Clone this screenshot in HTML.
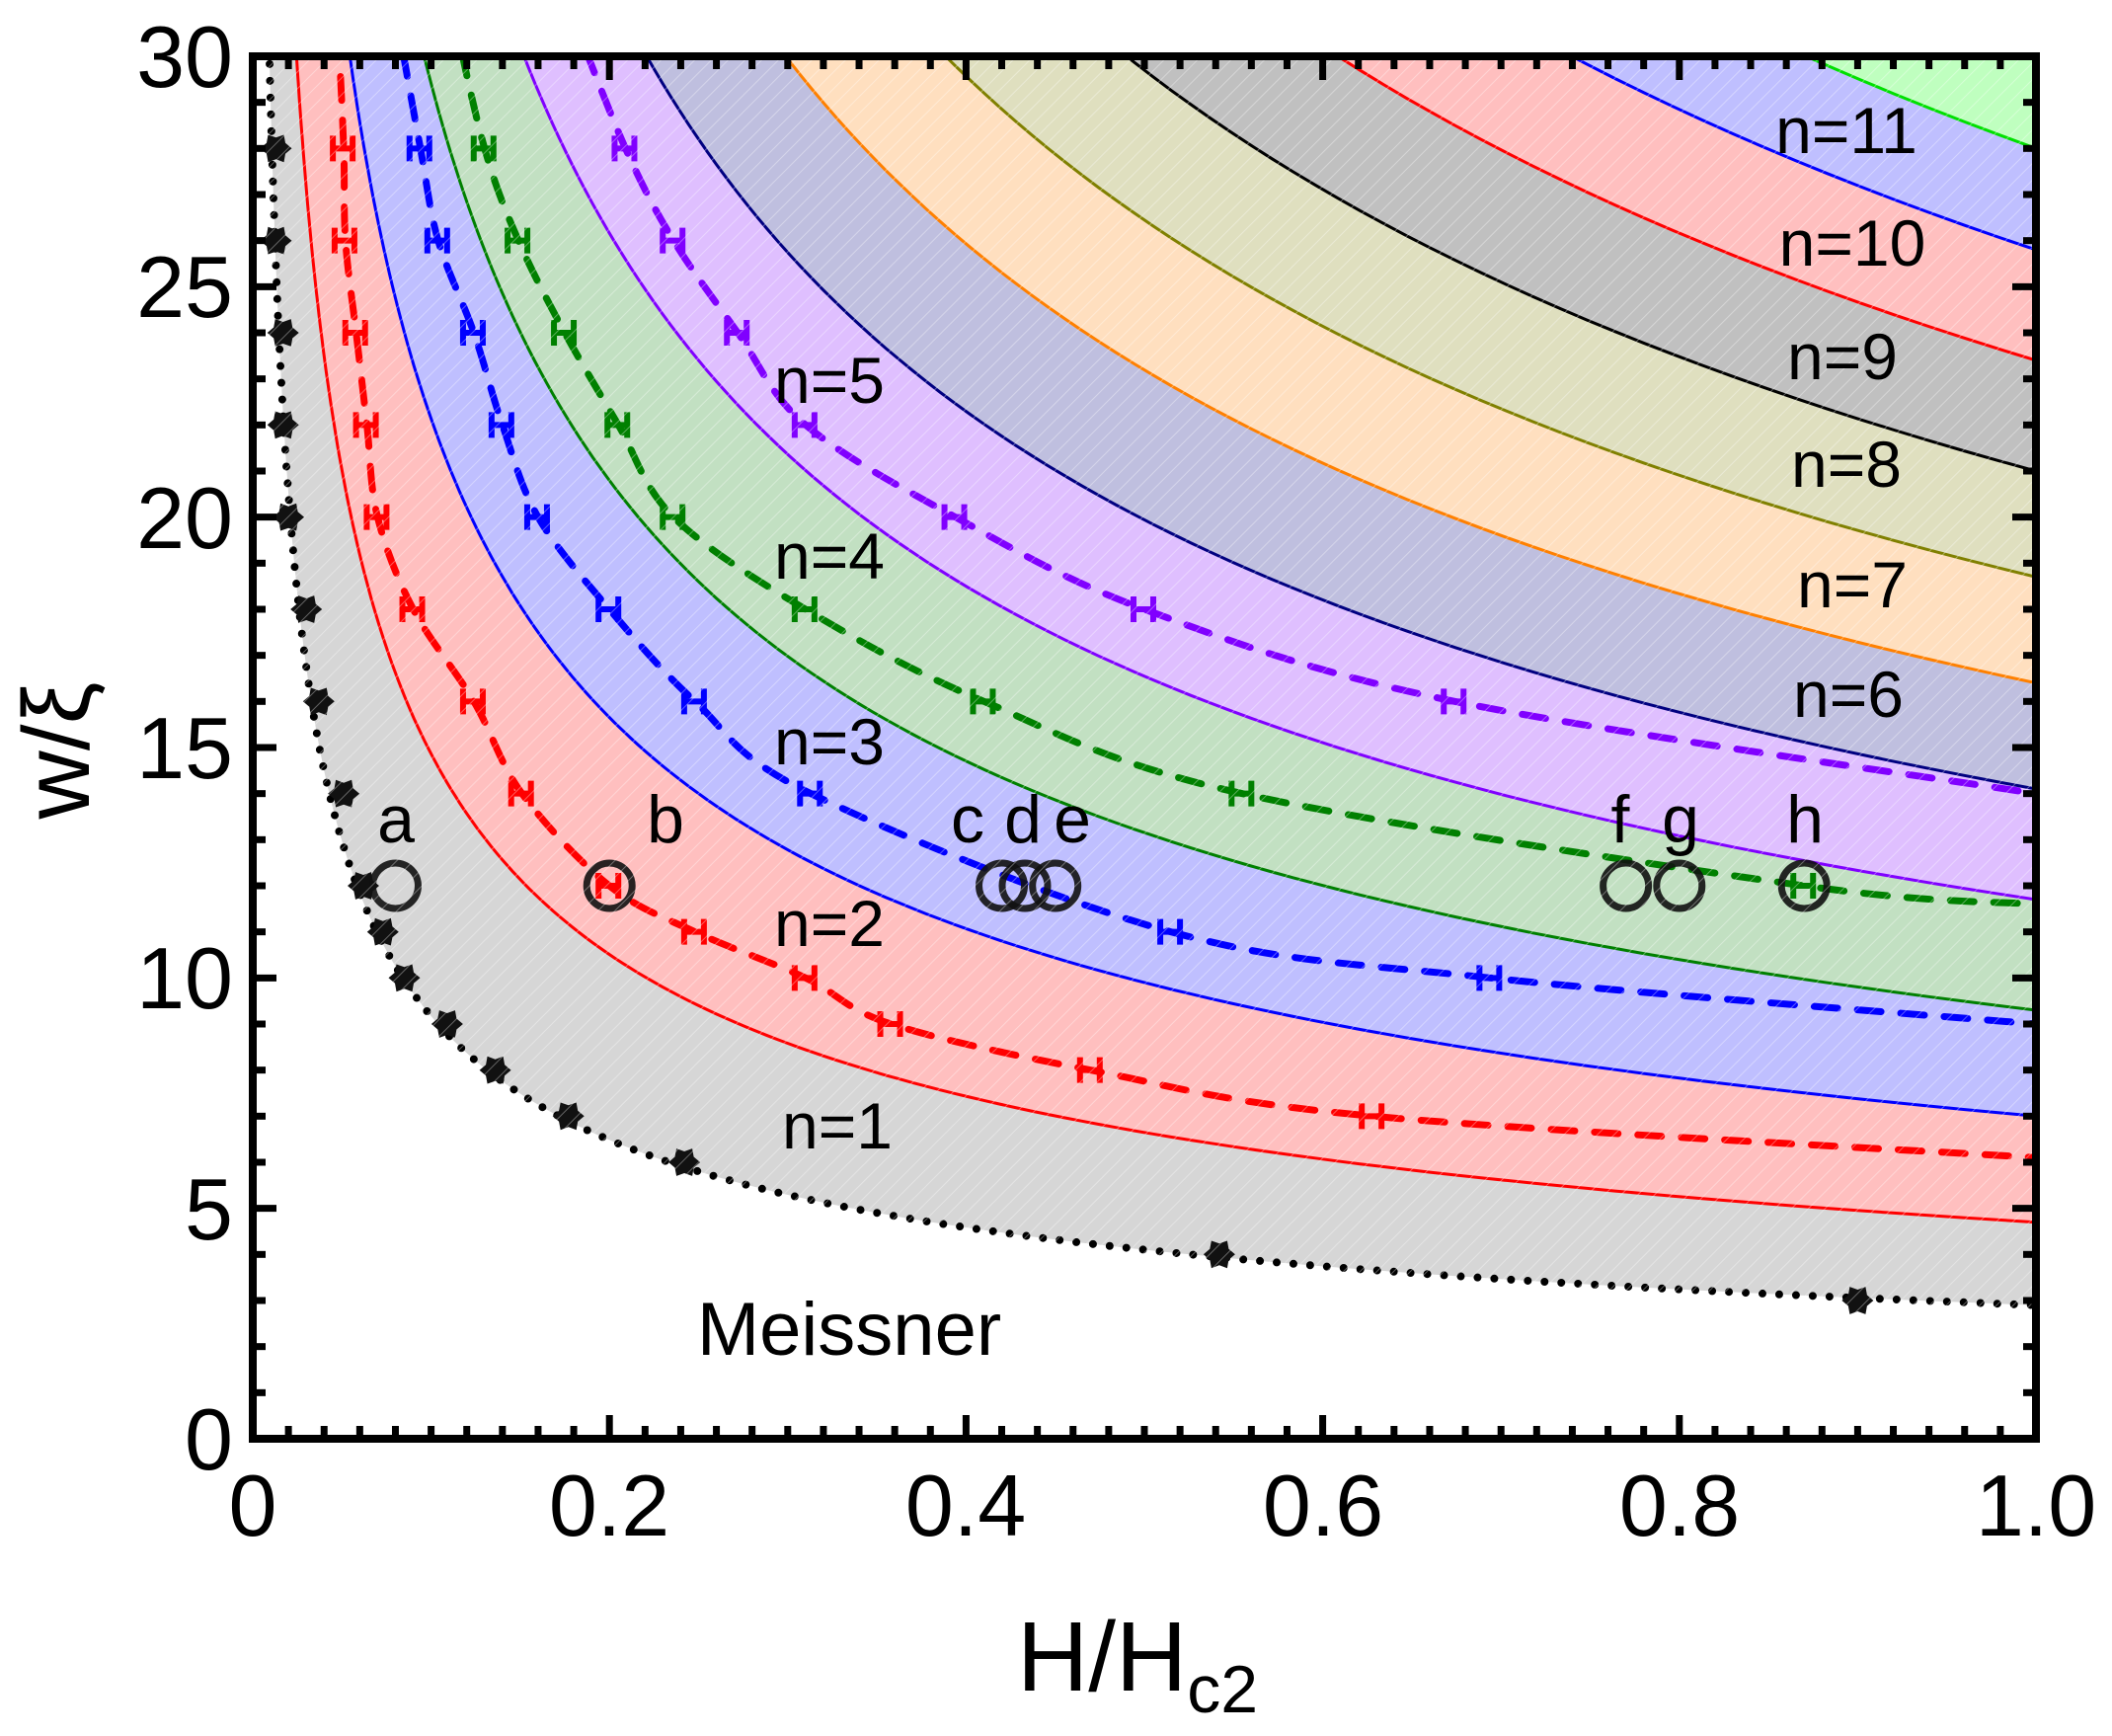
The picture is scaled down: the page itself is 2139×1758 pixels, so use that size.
<!DOCTYPE html>
<html><head><meta charset="utf-8"><style>
html,body{margin:0;padding:0;background:#fff}
svg{display:block}
text{font-family:"Liberation Sans",sans-serif;fill:#000}
</style></head><body>
<svg id="s" width="2139" height="1758" viewBox="0 0 2139 1758" xmlns="http://www.w3.org/2000/svg">
<defs>
<clipPath id="cp"><rect x="256" y="57" width="1806" height="1400"/></clipPath>
<pattern id="hatch" width="12" height="12" patternUnits="userSpaceOnUse" patternTransform="rotate(45)">
<line x1="0" y1="0" x2="0" y2="12" stroke="#fff" stroke-width="2" stroke-opacity="0.35"/>
</pattern>
</defs>
<g id="fills" clip-path="url(#cp)"></g>
<g id="lines" clip-path="url(#cp)"></g>
<g id="marks" clip-path="url(#cp)"></g>
<rect x="256" y="57" width="1806" height="1400" fill="url(#hatch)"/>
<g id="ticks"></g>
<rect x="256" y="57" width="1806" height="1400" fill="none" stroke="#000" stroke-width="8"/>
<g font-size="66">
<text x="848" y="1163" text-anchor="middle">n=1</text>
<text x="840" y="958" text-anchor="middle">n=2</text>
<text x="840" y="774" text-anchor="middle">n=3</text>
<text x="840" y="586" text-anchor="middle">n=4</text>
<text x="840" y="408" text-anchor="middle">n=5</text>
<text x="1872" y="726" text-anchor="middle">n=6</text>
<text x="1876" y="615" text-anchor="middle">n=7</text>
<text x="1870" y="493" text-anchor="middle">n=8</text>
<text x="1866" y="384" text-anchor="middle">n=9</text>
<text x="1876" y="269" text-anchor="middle">n=10</text>
<text x="1870" y="155" text-anchor="middle">n=11</text>
<text x="860" y="1372" text-anchor="middle" font-size="76">Meissner</text>
</g>
<g font-size="68" text-anchor="middle">
<text x="401" y="853">a</text><text x="674" y="853">b</text>
<text x="980" y="853">c</text><text x="1036" y="853">d</text><text x="1086" y="853">e</text>
<text x="1641" y="853">f</text><text x="1702" y="853">g</text><text x="1828" y="853">h</text>
</g>
<g font-size="88" text-anchor="middle">
<text x="256" y="1555">0</text><text x="617" y="1555">0.2</text><text x="978" y="1555">0.4</text>
<text x="1340" y="1555">0.6</text><text x="1701" y="1555">0.8</text><text x="2062" y="1555">1.0</text>
</g>
<g font-size="88" text-anchor="end">
<text x="236" y="1488">0</text><text x="236" y="1255">5</text><text x="236" y="1021">10</text>
<text x="236" y="788">15</text><text x="236" y="555">20</text><text x="236" y="321">25</text>
<text x="236" y="88">30</text>
</g>
<text x="1030" y="1712" font-size="100">H/H<tspan font-size="68" dy="22">c2</tspan></text>
<text transform="translate(90,760) rotate(-90)" font-size="96" text-anchor="middle">w/ξ</text>
</svg>
<script>
var NS="http://www.w3.org/2000/svg";
function X(h){return 256+h*1806}
function Y(w){return 1457-w*46.667}
function el(p,t,a){var e=document.createElementNS(NS,t);for(var k in a)e.setAttribute(k,a[k]);document.getElementById(p).appendChild(e);return e}
function hs(){var a=[];for(var i=0;i<=300;i++){a.push(0.002*Math.pow(500,i/300))}return a}
var H=hs();
function cpts(A){return H.map(function(h){var w=Math.min(A/Math.sqrt(h),34);return [X(h),Y(w)]})}
function pstr(p){return p.map(function(q,i){return (i?"L":"M")+q[0].toFixed(1)+","+q[1].toFixed(1)}).join("")}
var A=[2.9,4.7,7.0,9.3,11.7,14.1,16.4,18.7,21.0,23.4,25.8,28.0,60];
var fc=["#d6d6d6","#ffbfbf","#bfbfff","#c2e0c2","#dfbfff","#bfbfdf","#ffdfbf","#dfdfbf","#c0c0c0","#ffbfbf","#bfbfff","#bfffbf"];
var lc=["#ff0000","#0000ff","#008000","#8000ff","#000080","#ff8000","#808000","#000000","#ff0000","#0000ff","#00e000"];
for(var i=0;i<12;i++){var p1=cpts(A[i]),p2=cpts(A[i+1]).reverse();
el("fills","path",{d:pstr(p1.concat(p2))+"Z",fill:fc[i]});}
for(var i=1;i<12;i++){el("lines","path",{d:pstr(cpts(A[i])),fill:"none",stroke:lc[i-1],"stroke-width":3});}
el("lines","path",{d:pstr(cpts(2.9)),fill:"none",stroke:"#000","stroke-width":8,"stroke-dasharray":"0 17","stroke-linecap":"round"});
function smooth(pts){var d="M"+pts[0][0]+","+pts[0][1];for(var i=0;i<pts.length-1;i++){var p0=pts[Math.max(i-1,0)],p1=pts[i],p2=pts[i+1],p3=pts[Math.min(i+2,pts.length-1)];
d+="C"+(p1[0]+(p2[0]-p0[0])/6).toFixed(1)+","+(p1[1]+(p2[1]-p0[1])/6).toFixed(1)+" "+(p2[0]-(p3[0]-p1[0])/6).toFixed(1)+","+(p2[1]-(p3[1]-p1[1])/6).toFixed(1)+" "+p2[0].toFixed(1)+","+p2[1].toFixed(1);}return d}
var D=[
{c:"#ff0000",m:[[0.048,30.5],[0.051,28],[0.052,26],[0.058,24],[0.064,22],[0.070,20],[0.090,18],[0.124,16],[0.151,14],[0.2,12],[0.248,11],[0.31,10],[0.358,9],[0.47,8],[0.628,7],[1,6.1]],e:[1,2,3,4,5,6,7,8,9,10,11,12,13,14]},
{c:"#0000ff",m:[[0.08,31],[0.094,28],[0.104,26],[0.124,24],[0.14,22],[0.16,20],[0.2,18],[0.248,16],[0.313,14],[0.515,11],[0.694,10],[1,9.0]],e:[1,2,3,4,5,6,7,8,9,10]},
{c:"#008000",m:[[0.112,31],[0.13,28],[0.149,26],[0.175,24],[0.205,22],[0.236,20],[0.31,18],[0.41,16],[0.555,14],[0.87,12],[1,11.6]],e:[1,2,3,4,5,6,7,8,9]},
{c:"#8000ff",m:[[0.178,31],[0.209,28],[0.236,26],[0.272,24],[0.31,22],[0.394,20],[0.5,18],[0.674,16],[1,14.0]],e:[1,2,3,4,5,6,7]}];
D.forEach(function(s){var pts=s.m.map(function(q){return [X(q[0]),Y(q[1])]});
el("lines","path",{d:smooth(pts),fill:"none",stroke:s.c,"stroke-width":7,"stroke-dasharray":"24 20","stroke-linecap":"round"});
s.e.forEach(function(k){var x=pts[k][0],y=pts[k][1];
el("marks","path",{d:"M"+(x-11)+","+(y-13)+"v26M"+(x+9)+","+(y-13)+"v26M"+(x-11)+","+y+"h20",stroke:s.c,"stroke-width":6,fill:"none"});});});
var MM=[[0.013,28],[0.013,26],[0.017,24],[0.017,22],[0.02,20],[0.03,18],[0.037,16],[0.051,14],[0.062,12],[0.073,11],[0.085,10],[0.109,9],[0.136,8],[0.177,7],[0.242,6],[0.542,4],[0.9,3]];
MM.forEach(function(q){var x=X(q[0]),y=Y(q[1]);var d="";for(var j=0;j<12;j++){var r=j%2?11:16,a=j*Math.PI/6;d+=(j?"L":"M")+(x+r*Math.cos(a)).toFixed(1)+","+(y+r*Math.sin(a)).toFixed(1)}
el("marks","path",{d:d+"Z",fill:"#111"});});
[0.08,0.2,0.42,0.433,0.45,0.77,0.80,0.87].forEach(function(h){el("marks","circle",{cx:X(h),cy:Y(12),r:23,fill:"none",stroke:"#111","stroke-width":7,"stroke-opacity":0.9});});
for(var i=0;i<=50;i++){var x=X(i/50),L=(i%10==0)?24:13;
el("ticks","line",{x1:x,y1:1457,x2:x,y2:1457-L,stroke:"#000","stroke-width":7});
el("ticks","line",{x1:x,y1:57,x2:x,y2:57+L,stroke:"#000","stroke-width":7});}
for(var i=0;i<=30;i++){var y=Y(i),L=(i%5==0)?24:13;
el("ticks","line",{x1:256,y1:y,x2:256+L,y2:y,stroke:"#000","stroke-width":7});
el("ticks","line",{x1:2062,y1:y,x2:2062-L,y2:y,stroke:"#000","stroke-width":7});}
</script>
</body></html>
